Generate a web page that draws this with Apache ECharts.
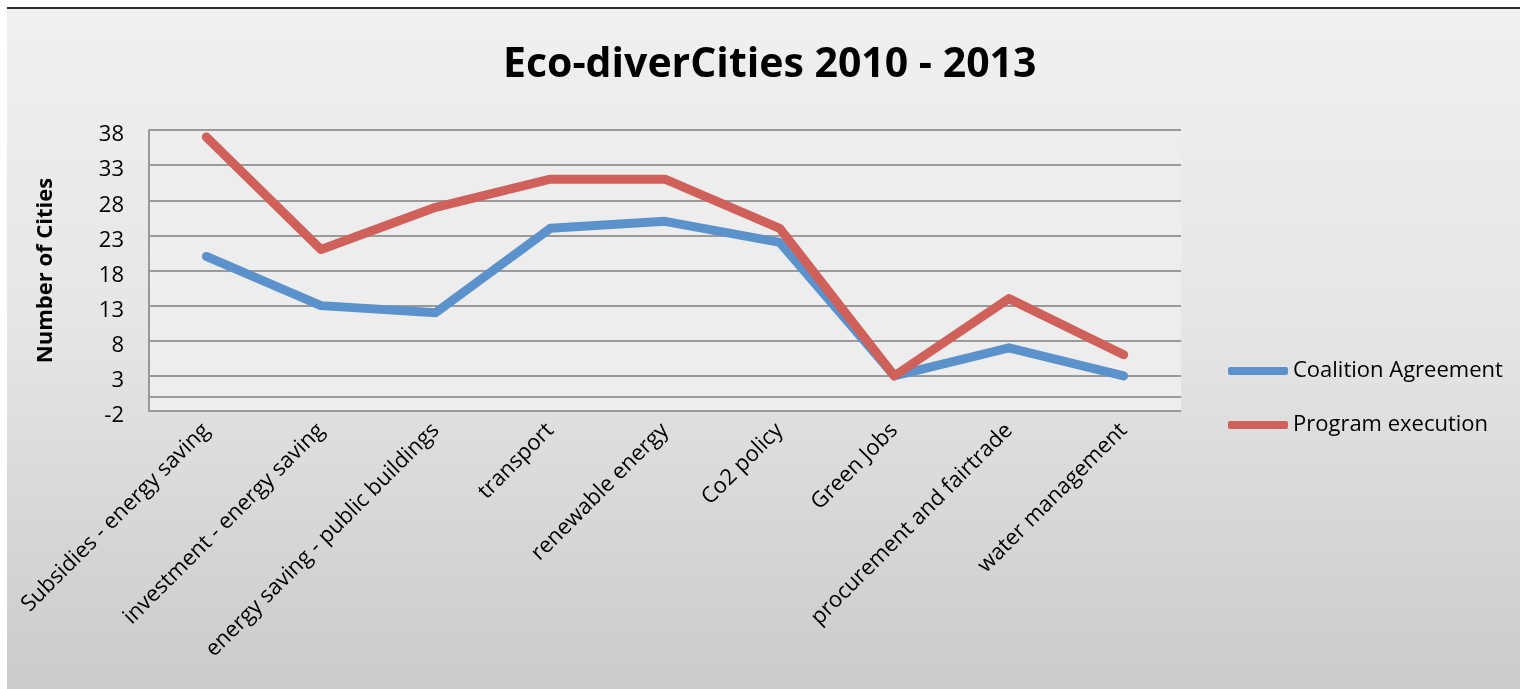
<!DOCTYPE html>
<html>
<head>
<meta charset="utf-8">
<style>
html,body{margin:0;padding:0;background:#fff;}
#chart{width:1522px;height:689px;}
</style>
<script src="https://cdn.jsdelivr.net/npm/echarts@6/dist/echarts.min.js"></script>
</head>
<body>
<div id="chart"></div>
<script>
const categories = ['Subsidies - energy saving','investment - energy saving','energy saving - public buildings','transport','renewable energy','Co2 policy','Green Jobs','procurement and fairtrade','water management'];
const coalitionAgreement = [20,13,12,24,25,22,3,7,3];
const programExecution = [37,21,27,31,31,24,3,14,6];
const yTickLabels = [-2,3,8,13,18,23,28,33,38];
const yGridValues = [-2,0,3,8,13,18,23,28,33,38];

const FONT = 'Open Sans';
const chart = echarts.init(document.getElementById('chart'), null, {renderer:'canvas'});
chart.setOption({
  backgroundColor: '#ffffff',
  animation: false,
  graphic: [
    {type:'rect', silent:true, z:-10, shape:{x:7,y:9,width:1513,height:680},
     style:{fill:new echarts.graphic.LinearGradient(0,0,0,1,[{offset:0,color:'#f0f0f0'},{offset:0.45,color:'#e6e6e6'},{offset:1,color:'#cbcbcb'}])}},
    {type:'line', silent:true, z:-9, shape:{x1:7,y1:8,x2:1520,y2:8}, style:{stroke:'#2b2b2b',lineWidth:2}}
  ],
  title: {
    text: 'Eco-diverCities 2010 - 2013',
    left: 498, top: 40,
    textStyle: {fontFamily: FONT, fontWeight: 'bold', fontSize: 41, color: '#000'}
  },
  legend: {
    orient: 'vertical',
    left: 1223, top: 355,
    itemWidth: 60, itemHeight: 8, itemGap: 32,
    icon: 'roundRect',
    textStyle: {fontFamily: FONT, fontSize: 22, color: '#000'},
    data: ['Coalition Agreement','Program execution']
  },
  grid: {
    left: 149, right: 341, top: 130, bottom: 278,
    show: true, backgroundColor: '#ededed', borderWidth: 0,
    containLabel: false, outerBoundsMode: 'none'
  },
  xAxis: {
    type: 'category',
    data: categories,
    boundaryGap: true,
    axisLine: {show: false, onZero: false},
    axisTick: {show: false},
    axisLabel: {rotate: 45, margin: 16, interval: 0, fontFamily: FONT, fontSize: 22, color: '#000'},
    splitLine: {show: false}
  },
  yAxis: {
    type: 'value',
    min: -2, max: 38,
    name: 'Number of Cities',
    nameLocation: 'middle',
    nameRotate: 90,
    nameGap: 92,
    nameTextStyle: {fontFamily: FONT, fontWeight: 'bold', fontSize: 22, color: '#000'},
    axisLine: {show: true, lineStyle: {color: '#999', width: 2}},
    axisTick: {show: false, customValues: yGridValues},
    axisLabel: {customValues: yTickLabels, margin: 25, fontFamily: FONT, fontSize: 22, color: '#000', verticalAlign: 'top', lineHeight: 10},
    splitLine: {show: true, lineStyle: {color: '#9a9a9a', width: 2}}
  },
  series: [
    {name: 'Coalition Agreement', type: 'line', data: coalitionAgreement, symbol: 'none',
     itemStyle: {color: '#5b92cc'},
     lineStyle: {color: '#5b92cc', width: 9, cap: 'round', join: 'round'}},
    {name: 'Program execution', type: 'line', data: programExecution, symbol: 'none',
     itemStyle: {color: '#cf605a'},
     lineStyle: {color: '#cf605a', width: 9, cap: 'round', join: 'round'}}
  ]
});
</script>
</body>
</html>
